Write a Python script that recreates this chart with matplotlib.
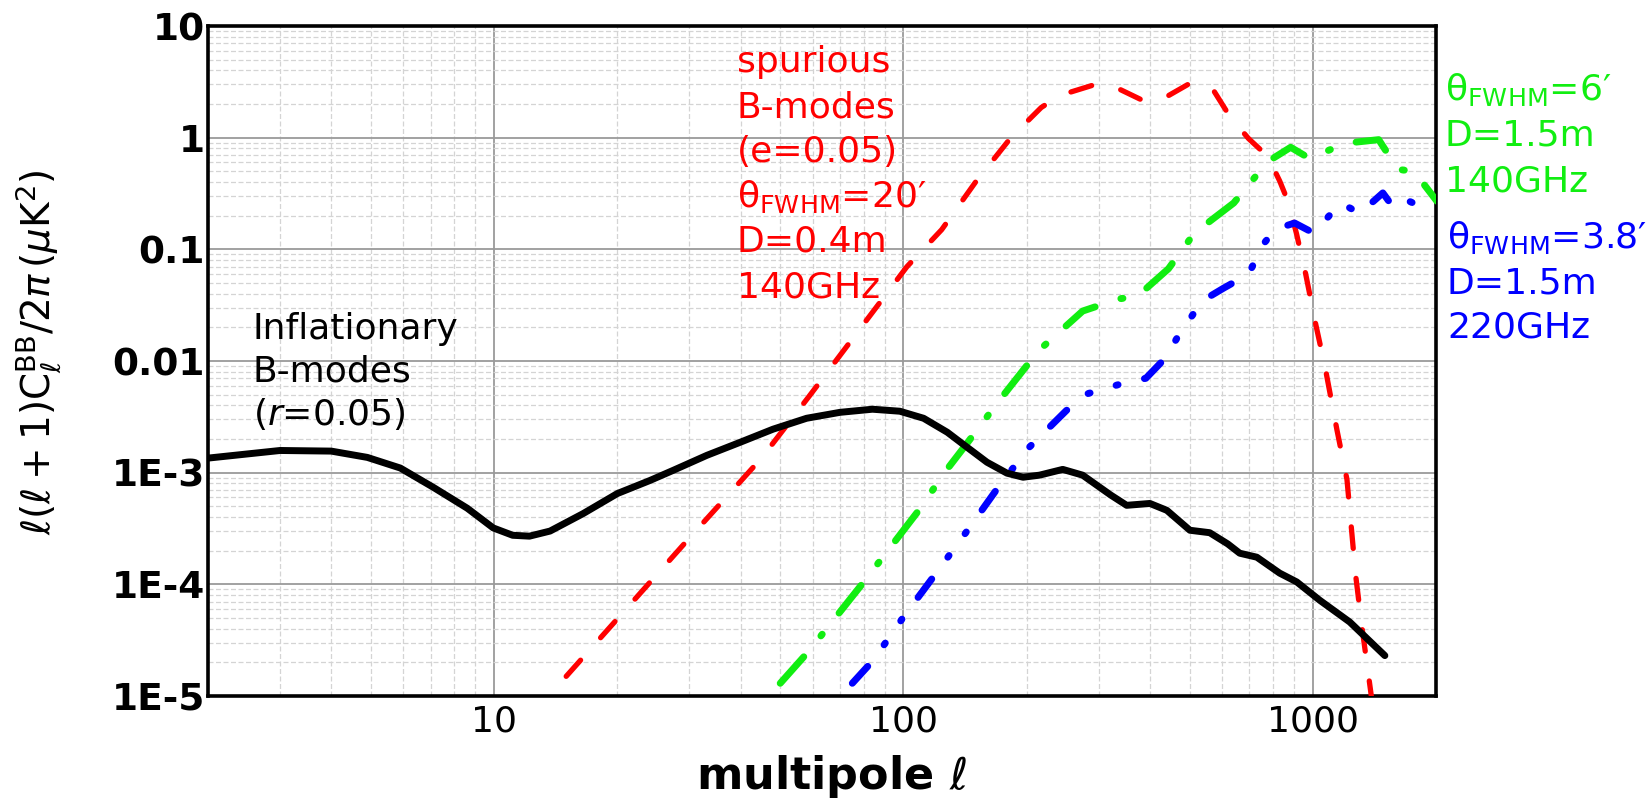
import matplotlib
matplotlib.use("Agg")
import matplotlib.pyplot as plt
from matplotlib.ticker import FixedLocator, NullFormatter, LogLocator

plt.rcParams["font.family"] = ["DejaVu Sans"]
plt.rcParams["mathtext.fontset"] = "dejavusans"

# inflationary B-modes (r=0.05)
ell_bb = [2, 3, 4, 4.9, 5.9, 7.1, 8.6, 9.95, 11.1, 12.2, 13.7, 16.5, 20, 24, 27.4, 33.1,
          39.9, 48, 58, 70, 84, 98, 112, 128, 143, 160, 179, 196, 215, 245, 274, 321, 351,
          400, 440, 501, 560, 620, 663, 730, 830, 914, 1040, 1231, 1500]
cl_bb = [1.35e-3, 1.58e-3, 1.56e-3, 1.37e-3, 1.1e-3, 7.4e-4, 4.8e-4, 3.2e-4, 2.75e-4,
         2.7e-4, 3.0e-4, 4.3e-4, 6.5e-4, 8.5e-4, 1.05e-3, 1.43e-3, 1.87e-3, 2.45e-3,
         3.07e-3, 3.47e-3, 3.7e-3, 3.55e-3, 3.07e-3, 2.3e-3, 1.69e-3, 1.24e-3, 9.9e-4,
         9.1e-4, 9.5e-4, 1.07e-3, 9.5e-4, 6.3e-4, 5.1e-4, 5.3e-4, 4.6e-4, 3.05e-4, 2.9e-4,
         2.3e-4, 1.9e-4, 1.75e-4, 1.26e-4, 1.05e-4, 7.2e-5, 4.6e-5, 2.3e-5]

# spurious B-modes, D=0.4m, 20'
ell_red = [15, 30, 45, 59, 102, 124, 150, 183, 217, 241, 298, 339, 390, 444, 509, 573, 627,
           697, 776, 830, 873, 913, 961, 1016, 1073, 1146, 1212, 1273, 1318, 1390]
cl_red = [1.5e-5, 2.6e-4, 1.35e-3, 4.9e-3, 0.07, 0.15, 0.40, 1.0, 1.86, 2.39, 3.04, 2.69,
          2.1, 2.38, 3.17, 2.63, 1.55, 0.98, 0.68, 0.41, 0.26, 0.137, 0.060, 0.0216, 8.6e-3,
          2.4e-3, 8.7e-4, 1.2e-4, 4.2e-5, 1.0e-5]

# D=1.5m, 140GHz
ell_green = [50, 58.6, 80, 108, 128, 142, 172, 214, 274, 336, 373, 444, 514, 641, 776, 883,
             983, 1197, 1449, 1614, 1766, 2010]
cl_green = [1.3e-5, 2.5e-5, 1.05e-4, 4.4e-4, 1.08e-3, 1.77e-3, 4.5e-3, 0.0124, 0.028, 0.036,
            0.038, 0.067, 0.14, 0.26, 0.61, 0.82, 0.65, 0.89, 0.96, 0.52, 0.50, 0.27]

# D=1.5m, 220GHz
ell_blue = [75, 84.5, 100, 120, 142, 170, 202, 250, 282, 343, 391, 435, 473, 538, 606, 697,
            758, 812, 903, 1005, 1170, 1303, 1483, 1578, 1718, 2010]
cl_blue = [1.3e-5, 2.1e-5, 5.1e-5, 1.25e-4, 2.9e-4, 7.3e-4, 1.66e-3, 3.6e-3, 5.1e-3, 6.3e-3,
           7e-3, 0.0105, 0.0176, 0.0347, 0.045, 0.060, 0.112, 0.152, 0.172, 0.14, 0.26, 0.21,
           0.32, 0.234, 0.27, 0.21]

x_ticks = [10, 100, 1000]
x_tick_labels = ["10", "100", "1000"]
y_ticks = [1e-5, 1e-4, 1e-3, 1e-2, 1e-1, 1, 10]
y_tick_labels = ["1E-5", "1E-4", "1E-3", "0.01", "0.1", "1", "10"]

red_text = ["spurious", "B-modes", "(e=0.05)", "θ$_{\\mathrm{FWHM}}$=20′", "D=0.4m", "140GHz"]
green_text = ["θ$_{\\mathrm{FWHM}}$=6′", "D=1.5m", "140GHz"]
blue_text = ["θ$_{\\mathrm{FWHM}}$=3.8′", "D=1.5m", "220GHz"]
black_text = ["Inflationary", "B-modes", "($r$=0.05)"]

RED = "#ff0000"
GREEN = "#11ee11"
BLUE = "#0000ff"

W, H = 1650, 800
fig = plt.figure(figsize=(W / 100, H / 100), dpi=100)
ax = fig.add_axes([208 / W, 1 - 696 / H, (1436 - 208) / W, 670 / H])

ax.set_xscale("log")
ax.set_yscale("log")
ax.set_xlim(2, 2000)
ax.set_ylim(1e-5, 10)

ax.plot(ell_bb, cl_bb, color="black", lw=5, solid_capstyle="round",
        solid_joinstyle="round", zorder=5)
ax.plot(ell_red, cl_red, color=RED, lw=3.8, dashes=(4.1, 5.7),
        dash_capstyle="round", zorder=4)
ax.plot(ell_green, cl_green, color=GREEN, lw=5, dashes=(5.1, 3.9, 0.3, 3.9),
        dash_capstyle="round", zorder=4)
ax.plot(ell_blue, cl_blue, color=BLUE, lw=5, dashes=(3.3, 3.9, 0.3, 3.9, 0.3, 3.9),
        dash_capstyle="round", zorder=4)

ax.xaxis.set_major_locator(FixedLocator(x_ticks))
ax.set_xticklabels(x_tick_labels, fontsize=26)
ax.yaxis.set_major_locator(FixedLocator(y_ticks))
ax.set_yticklabels(y_tick_labels, fontsize=27, fontweight="bold")
ax.xaxis.set_minor_locator(LogLocator(base=10, subs=range(2, 10), numticks=20))
ax.yaxis.set_minor_locator(LogLocator(base=10, subs=range(2, 10), numticks=20))
ax.xaxis.set_minor_formatter(NullFormatter())
ax.yaxis.set_minor_formatter(NullFormatter())
ax.tick_params(axis="both", which="both", length=0)
ax.tick_params(axis="x", pad=6)
ax.tick_params(axis="y", pad=2)

ax.grid(True, which="major", color="#9a9a9a", lw=1.3)
ax.grid(True, which="minor", color="#d4d4d4", lw=0.9, ls=(0, (4, 2)))
ax.set_axisbelow(True)
for s in ax.spines.values():
    s.set_linewidth(2.6)
    s.set_color("black")


def put_lines(lines, x, y0, dy, color):
    for i, s in enumerate(lines):
        fig.text(x / W, 1 - (y0 + i * dy) / H, s, color=color, fontsize=26,
                 ha="left", va="baseline")


put_lines(red_text, 737, 72, 45, RED)
put_lines(green_text, 1445, 100, 46, GREEN)
put_lines(blue_text, 1447, 248, 45, BLUE)
put_lines(black_text, 253, 339, 43, "black")

fig.text(38 / W, 1 - 352 / H,
         r"$\ell(\ell+1)\mathrm{C}_\ell^{\mathrm{BB}}/2\pi\,(\mu\mathrm{K}^2)$",
         rotation=90, ha="center", va="center", fontsize=28)
fig.text(831 / W, 1 - 777 / H, r"multipole $\ell$", ha="center", va="center",
         fontsize=32, fontweight="bold")

fig.savefig("out.png", dpi=100, facecolor="white")
